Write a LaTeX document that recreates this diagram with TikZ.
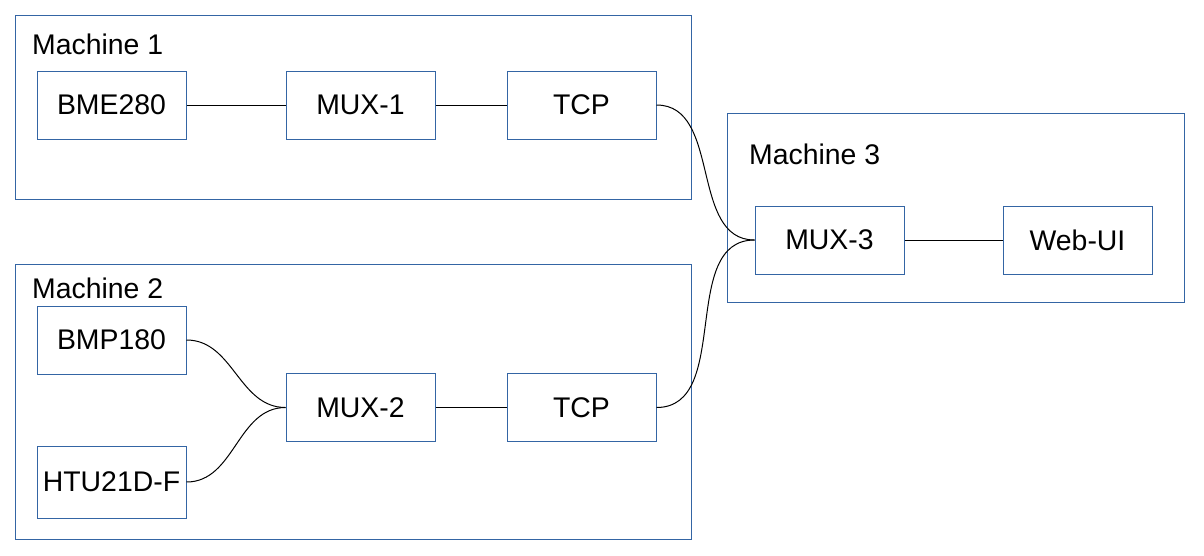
\documentclass[tikz,border=0pt]{standalone}
\usepackage{fontspec}
\setmainfont{Liberation Sans}
\definecolor{frame}{HTML}{3465A4}
\begin{document}
\begin{tikzpicture}[x=1pt,y=-1pt,
  group/.style={draw=frame,line width=1pt,inner sep=0pt},
  box/.style={draw=frame,line width=1pt,inner sep=0pt,minimum width=149pt,minimum height=68pt,font=\fontsize{28.4}{32}\selectfont},
  title/.style={anchor=base west,inner sep=0pt,font=\fontsize{28.4}{32}\selectfont},
  wire/.style={draw=black,line width=1pt}]
\useasboundingbox (0,0) rectangle (1204,555);
% groups
\node[group,minimum width=676pt,minimum height=184pt] (m1) at (353,107) {};
\node[group,minimum width=676pt,minimum height=275pt] (m2) at (353,401.5) {};
\node[group,minimum width=457pt,minimum height=188.5pt] (m3) at (955.5,207.75) {};
\node[title] (t1) at (32,54) {Machine 1};
\node[title] (t2) at (32,298) {Machine 2};
\node[title] (t3) at (749,164) {Machine 3};
% boxes
\node[box] (bme) at (111.5,105) {BME280};
\node[box] (mux1) at (360.5,105) {MUX-1};
\node[box] (tcp1) at (581.5,105) {TCP};
\node[box] (bmp) at (111.5,340) {BMP180};
\node[box] (mux2) at (360.5,407.5) {MUX-2};
\node[box] (tcp2) at (581.5,407.5) {TCP};
\node[box,minimum height=72pt] (htu) at (111.5,482) {HTU21D-F};
\node[box] (mux3) at (829.5,240) {MUX-3};
\node[box] (web) at (1077.5,240) {Web-UI};
% wires
\draw[wire] (bme) -- (mux1);
\draw[wire] (mux1) -- (tcp1);
\draw[wire] (mux2) -- (tcp2);
\draw[wire] (mux3) -- (web);
\draw[wire] (tcp1.east) to[out=0,in=180] (mux3.west);
\draw[wire] (tcp2.east) to[out=0,in=180] (mux3.west);
\draw[wire] (bmp.east) to[out=0,in=180] (mux2.west);
\draw[wire] (htu.east) to[out=0,in=180] (mux2.west);
\end{tikzpicture}
\end{document}
